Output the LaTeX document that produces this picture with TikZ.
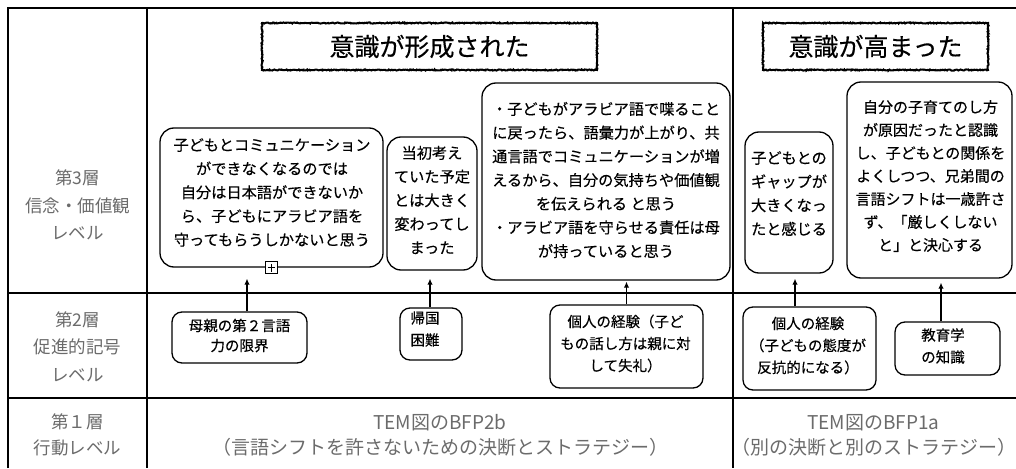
\documentclass[tikz,border=0pt]{standalone}
\usepackage{fontspec}
\setmainfont{Noto Sans CJK JP}[BoldFont={Noto Sans CJK JP}, BoldFeatures={FakeBold=0.35}]
\usetikzlibrary{arrows.meta,decorations.pathmorphing,calc}
\begin{document}
\begin{tikzpicture}[x=1pt,y=-1pt,
  frame/.style={line width=1.6pt},
  rbox/.style={draw, line width=1.3pt, rounded corners=14pt, inner sep=0pt},
  sbox/.style={draw, line width=1.3pt, rounded corners=10pt, inner sep=0pt},
  btxt/.style={align=center, inner sep=0pt, font=\bfseries\fontsize{15.2}{23.7}\selectfont},
  stxt/.style={align=center, inner sep=0pt, font=\bfseries\fontsize{14.5}{22}\selectfont},
  lvl/.style={text=black!58, align=center, inner sep=0pt, font=\fontsize{17.5}{27.5}\selectfont},
  lone/.style={text=black!58, align=center, inner sep=0pt, font=\fontsize{19}{25}\selectfont},
  title/.style={draw, line width=2pt, decorate, decoration={random steps,segment length=1pt,amplitude=0.55pt}, inner sep=0pt, font=\bfseries\fontsize{25}{30}\selectfont},
  arr/.style={line width=1.5pt, -{Latex[length=6pt,width=5.5pt]}}
]
\useasboundingbox (0,0) rectangle (1016,468);
% frame
\coordinate (tl) at (8,8);
\coordinate (tr) at (1016,8);
\coordinate (bl) at (8,468);
\draw[frame] (bl) -- (tl) -- (tr);
\draw[frame] (147,8) -- (147,468);
\draw[frame] (733,8) -- (733,468);
\draw[frame] (8,293) -- (1016,293);
\draw[frame] (8,398) -- (1016,398);

% level labels
\node[lvl] (l3) at (77.5,205) {第3層\\信念・価値観\\レベル};
\node[lvl] (l2) at (77.5,346.5) {第2層\\促進的記号\\レベル};
\node[lvl, font=\fontsize{17.5}{26}\selectfont] (l1) at (77.5,435) {第１層\\行動レベル};

% titles
\node[title, minimum width=335pt, minimum height=47pt] (t1) at (429.5,46.5) {意識が形成された};
\node[title, minimum width=225pt, minimum height=47pt] (t2) at (875.5,46.5) {意識が高まった};

% layer 3 boxes
\node[rbox, minimum width=223pt, minimum height=139pt] (A) at (271.5,197.5) {};
\node[btxt] (At) at (272,192.5) {子どもとコミュニケーション\\ができなくなるのでは\\自分は日本語ができないか\\ら、子どもにアラビア語を\\守ってもらうしかないと思う};
\node[rbox, minimum width=90pt, minimum height=133pt] (B) at (432,203.5) {};
\node[btxt] (Bt) at (432,200) {当初考え\\ていた予定\\とは大きく\\変わってし\\まった};
\node[rbox, minimum width=248pt, minimum height=197pt] (C) at (606,181.5) {};
\node[btxt] (Ct) at (606,180) {・子どもがアラビア語で喋ること\\に戻ったら、語彙力が上がり、共\\通言語でコミュニケーションが増\\えるから、自分の気持ちや価値観\\を伝えられる と思う\\・アラビア語を守らせる責任は母\\が持っていると思う};
\node[rbox, minimum width=88pt, minimum height=141pt] (D) at (789,202.5) {};
\node[btxt] (Dt) at (789,193.5) {子どもとの\\ギャップが\\大きくなっ\\たと感じる};
\node[rbox, minimum width=165pt, minimum height=196pt] (E) at (929.5,180) {};
\node[btxt, font=\bfseries\fontsize{15}{23}\selectfont] (Et) at (930.5,176) {自分の子育てのし方\\が原因だったと認識\\し、子どもとの関係を\\よくしつつ、兄弟間の\\言語シフトは一歳許さ\\ず、「厳しくしない\\と」と決心する};

% collapse icon
\node[draw, line width=0.8pt, fill=white, minimum size=12pt, inner sep=0pt] (plus) at (A.south) {};
\draw[line width=0.8pt, shorten <=2.5pt, shorten >=2.5pt] (plus.north) -- (plus.south);
\draw[line width=0.8pt, shorten <=2.5pt, shorten >=2.5pt] (plus.west) -- (plus.east);

% layer 2 boxes
\node[sbox, minimum width=135pt, minimum height=51pt] (F) at (239.5,337.5) {};
\node[stxt, font=\bfseries\fontsize{14.5}{20}\selectfont] (Ft) at (239.5,335.5) {母親の第２言語\\力の限界};
\node[sbox, minimum width=62pt, minimum height=52pt] (G) at (431,334) {};
\node[stxt] (Gt) at (425,329) {帰国\\困難};
\node[sbox, minimum width=153pt, minimum height=83pt] (H) at (626.5,346.5) {};
\node[stxt] (Ht) at (625.5,343.5) {個人の経験（子ど\\もの話し方は親に対\\して失礼）};
\node[sbox, minimum width=133pt, minimum height=83pt] (I) at (809.5,348.5) {};
\node[stxt] (It) at (808,345.5) {個人の経験\\（子どもの態度が\\反抗的になる）};
\node[sbox, minimum width=105pt, minimum height=53pt] (J) at (947.5,348.5) {};
\node[stxt] (Jt) at (943,346) {教育学\\の知識};

% layer 1 texts
\node[lone] (bfp2) at (440,435.5) {TEM図のBFP2b\\（言語シフトを許さないための決断とストラテジー）};
\node[lone] (bfp1) at (873.5,435.5) {TEM図のBFP1a\\（別の決断と別のストラテジー）};

% arrows
\draw[arr] ($(F.north)+(7.5,0)$) -- ($(A.south)+(-24.5,11)$);
\draw[arr] ($(G.north)+(-1,0)$) -- ($(B.south)+(-2,8)$);
\draw[arr] ($(H.north)+(0,0)$) -- ($(C.south)+(20.5,1)$);
\draw[arr] ($(I.north)+(-14.5,0)$) -- ($(D.south)+(6,5)$);
\draw[arr] ($(J.north)+(-6.5,0)$) -- ($(E.south)+(11.5,4)$);
\end{tikzpicture}
\end{document}
